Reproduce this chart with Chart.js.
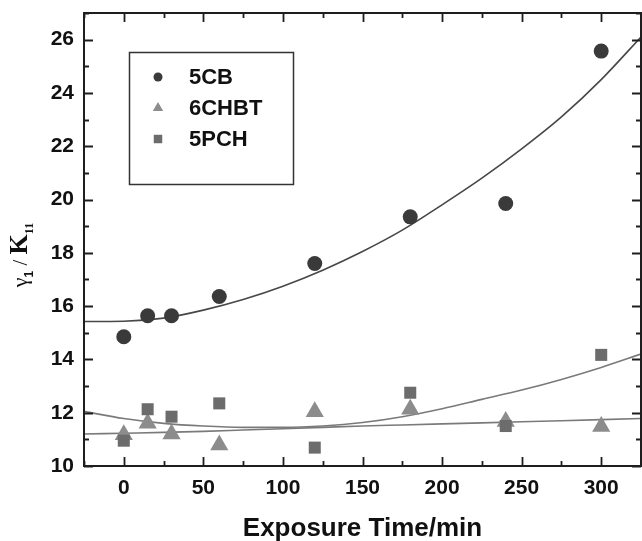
<!DOCTYPE html>
<html>
<head>
<meta charset="utf-8">
<script src="https://cdn.jsdelivr.net/npm/chart.js@4/dist/chart.umd.min.js"></script>
<style>
  html, body { margin: 0; padding: 0; background: #fff; }
  #wrap { width: 642px; height: 541px; }
</style>
</head>
<body>
<div id="wrap"><canvas id="viscChart" width="642" height="541"></canvas></div>
<script>
// exposure times (min) and measured gamma1/K11
const timeMin = [0, 15, 30, 60, 120, 180, 240, 300];
const cb5 = [14.85, 15.64, 15.64, 16.36, 17.6, 19.35, 19.85, 25.57];
const chbt6 = [11.17, 11.6, 11.2, 10.79, 12.04, 12.13, 11.67, 11.48];
const pch5 = [10.95, 12.13, 11.85, 12.35, 10.69, 12.75, 11.5, 14.17];

// fitted curves
const fitX = [-25, 0, 25, 50, 75, 100, 125, 150, 175, 200, 225, 250, 275, 300, 325];
const cb5Fit = [15.42, 15.43, 15.55, 15.85, 16.25, 16.75, 17.35, 18.05, 18.85, 19.8, 20.8, 21.9, 23.1, 24.5, 26.1];
const pch5Fit = [12.05, 11.78, 11.6, 11.5, 11.45, 11.45, 11.5, 11.63, 11.85, 12.15, 12.5, 12.85, 13.25, 13.7, 14.2];
const chbt6Fit = [11.2, 11.23, 11.26, 11.3, 11.35, 11.4, 11.45, 11.5, 11.54, 11.58, 11.62, 11.66, 11.7, 11.74, 11.78];

const xTitle = 'Exposure Time/min';
const FONT = '"Liberation Sans", Arial, sans-serif';
const SERIF = '"Liberation Serif", "Times New Roman", serif';

const toXY = (xs, ys) => xs.map((x, i) => ({ x: x, y: ys[i] }));

function fitLine(xs, ys, color) {
    return {
        type: 'line',
        data: toXY(xs, ys),
        borderColor: color,
        borderWidth: 1.6,
        pointRadius: 0,
        fill: false,
        cubicInterpolationMode: 'monotone',
        legendHide: true,
        order: 5
    };
}

function markers(label, ys, style, color, r, legendR, order) {
    return {
        type: 'scatter',
        label: label,
        data: toXY(timeMin, ys),
        pointStyle: style,
        pointRadius: r,
        pointHoverRadius: r,
        backgroundColor: color,
        borderColor: color,
        borderWidth: 0,
        legendR: legendR,
        order: order
    };
}

// drop the extra room Chart.js keeps for edge labels
function noPad(s) {
    s.paddingTop = 0; s.paddingBottom = 0; s.paddingLeft = 0; s.paddingRight = 0;
}

// inward ticks on all four sides plus the frame
const frameTicks = {
    id: 'frameTicks',
    afterDraw(chart) {
        const { ctx, chartArea: a } = chart;
        const xs = chart.scales.x, ys = chart.scales.y;
        ctx.save();
        ctx.strokeStyle = '#1e1e1e';
        ctx.lineWidth = 1.8;
        xs.ticks.forEach(t => {
            const px = Math.round(xs.getPixelForValue(t.value)) + 0.5;
            const len = t.value % 50 === 0 ? 9 : 5;
            ctx.beginPath();
            ctx.moveTo(px, a.bottom); ctx.lineTo(px, a.bottom - len);
            ctx.moveTo(px, a.top); ctx.lineTo(px, a.top + len);
            ctx.stroke();
        });
        ys.ticks.forEach(t => {
            const py = Math.round(ys.getPixelForValue(t.value)) + 0.5;
            const len = t.value % 2 === 0 ? 9 : 5;
            ctx.beginPath();
            ctx.moveTo(a.left, py); ctx.lineTo(a.left + len, py);
            ctx.moveTo(a.right, py); ctx.lineTo(a.right - len, py);
            ctx.stroke();
        });
        ctx.lineWidth = 2;
        ctx.strokeRect(a.left, a.top, a.right - a.left, a.bottom - a.top);
        ctx.restore();
    }
};

// boxed legend inside the plot
const boxLegend = {
    id: 'boxLegend',
    afterDraw(chart) {
        const ctx = chart.ctx;
        const bx = 129, by = 52, bw = 164, bh = 132;
        ctx.save();
        ctx.strokeStyle = '#333';
        ctx.lineWidth = 1.5;
        ctx.strokeRect(bx + 0.5, by + 0.5, bw, bh);
        ctx.font = 'bold 22px ' + FONT;
        ctx.textBaseline = 'middle';
        let row = 0;
        chart.data.datasets.forEach(ds => {
            if (ds.legendHide) return;
            const cy = 77 + row * 31;
            ctx.fillStyle = ds.backgroundColor;
            Chart.helpers.drawPoint(ctx, { pointStyle: ds.pointStyle, radius: ds.legendR, borderWidth: 0 }, 158, cy);
            ctx.fillStyle = '#111';
            ctx.fillText(ds.label, 189, cy + 1);
            row++;
        });
        ctx.restore();
    }
};

// axis titles
const axisTitles = {
    id: 'axisTitles',
    afterDraw(chart) {
        const ctx = chart.ctx;
        const a = chart.chartArea;
        ctx.save();
        ctx.fillStyle = '#111';
        ctx.font = 'bold 26px ' + FONT;
        ctx.textAlign = 'center';
        ctx.textBaseline = 'alphabetic';
        ctx.fillText(xTitle, (a.left + a.right) / 2, 536);

        // gamma_1 / K_11, rotated
        const parts = [
            { t: '\u03b3', f: '22px ' + SERIF, dy: 0 },
            { t: '1', f: 'bold 12px ' + FONT, dy: 6 },
            { t: ' / ', f: '21px ' + SERIF, dy: 0 },
            { t: 'K', f: 'bold 26px ' + SERIF, dy: 0 },
            { t: '11', f: 'bold 12px ' + SERIF, dy: 6 }
        ];
        let total = 0;
        parts.forEach(p => { ctx.font = p.f; p.w = ctx.measureText(p.t).width; total += p.w; });
        ctx.translate(27, 255);
        ctx.rotate(-Math.PI / 2);
        ctx.textAlign = 'left';
        let x = -total / 2;
        parts.forEach(p => {
            ctx.font = p.f;
            ctx.fillText(p.t, x, p.dy);
            x += p.w;
        });
        ctx.restore();
    }
};

new Chart(document.getElementById('viscChart'), {
    data: {
        datasets: [
            markers('5CB', cb5, 'circle', '#3a3a3a', 7.5, 4.5, 1),
            markers('6CHBT', chbt6, 'triangle', '#8c8c8c', 10.5, 6, 2),
            markers('5PCH', pch5, 'rect', '#6c6c6c', 8.5, 6, 0),
            fitLine(fitX, cb5Fit, '#474747'),
            fitLine(fitX, pch5Fit, '#7a7a7a'),
            fitLine(fitX, chbt6Fit, '#7a7a7a')
        ]
    },
    options: {
        responsive: false,
        devicePixelRatio: 1,
        animation: false,
        layout: { autoPadding: false, padding: { top: 13, right: 1, left: 0, bottom: 0 } },
        plugins: { legend: { display: false }, tooltip: { enabled: false } },
        scales: {
            x: {
                type: 'linear',
                min: -25,
                max: 325,
                grid: { display: false, drawTicks: false },
                border: { display: false },
                afterFit: s => { s.height = 75; noPad(s); },
                ticks: {
                    stepSize: 25,
                    autoSkip: false,
                    maxRotation: 0,
                    padding: 10,
                    color: '#111',
                    font: { family: FONT, size: 21, weight: 'bold' },
                    callback: v => (v % 50 === 0 ? v : '')
                }
            },
            y: {
                type: 'linear',
                min: 10,
                max: 27,
                grid: { display: false, drawTicks: false },
                border: { display: false },
                afterFit: s => { s.width = 84; noPad(s); },
                ticks: {
                    stepSize: 1,
                    autoSkip: false,
                    padding: 10,
                    color: '#111',
                    font: { family: FONT, size: 21, weight: 'bold' },
                    callback: v => (v % 2 === 0 ? v : '')
                }
            }
        }
    },
    plugins: [frameTicks, boxLegend, axisTitles]
});
</script>
</body>
</html>
